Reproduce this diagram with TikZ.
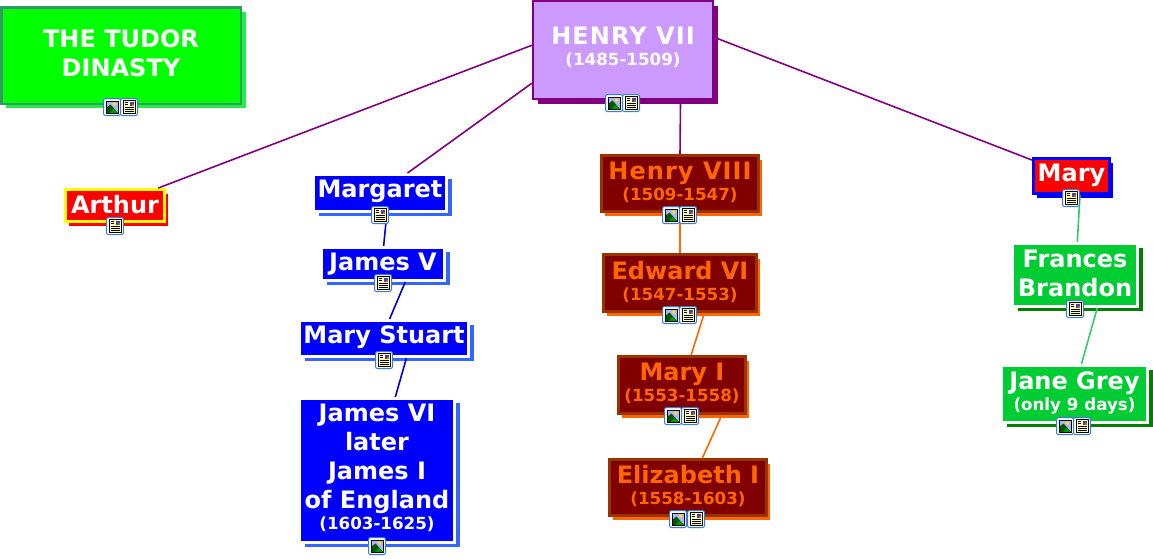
\documentclass[tikz,border=0pt]{standalone}
\usepackage{fontspec}
\setmainfont{DejaVu Sans}
\usepackage{xcolor}
\usetikzlibrary{shadows}
\definecolor{tgreen}{HTML}{00FF00}
\definecolor{tgreend}{HTML}{339966}
\definecolor{tgreens}{HTML}{22EE44}
\definecolor{hlilac}{HTML}{CC99FF}
\definecolor{hpurple}{HTML}{800080}
\definecolor{rmaroon}{HTML}{800000}
\definecolor{rbrown}{HTML}{993300}
\definecolor{rorange}{HTML}{FF6600}
\definecolor{sblue}{HTML}{0000FF}
\definecolor{sblues}{HTML}{3366FF}
\definecolor{bgreen}{HTML}{00CC33}
\definecolor{bgreend}{HTML}{008000}
\definecolor{bline}{HTML}{33CC66}
\definecolor{ired}{HTML}{FF0000}
\definecolor{iyellow}{HTML}{FFFF00}
\definecolor{iconb}{HTML}{3A7BD5}
\newcommand{\nametxt}{\fontsize{24}{29}\selectfont\bfseries}
\newcommand{\datetxt}{\fontsize{16.7}{18}\selectfont\bfseries}
\newcommand{\widetxt}{\addfontfeature{LetterSpace=4.5}}

\begin{document}
\begin{tikzpicture}[x=1pt, y=-1pt, font=\nametxt,
  box/.style={rectangle, inner sep=0pt, align=center},
  lift/.style={execute at end node={\vrule width 0pt height 0pt depth #1pt}},
  shade/.style={drop shadow={shadow xshift=5pt, shadow yshift=-4.5pt, opacity=1, fill=#1}},
  smallshade/.style={drop shadow={shadow xshift=3.5pt, shadow yshift=-4.5pt, opacity=1, fill=#1}},
  titlebox/.style={box, draw=tgreend, line width=2.5pt, fill=tgreen, text=white, shade=tgreens},
  rootbox/.style={box, draw=hpurple, line width=2pt, fill=hlilac, text=white, shade=hpurple},
  kingbox/.style={box, draw=rbrown, line width=3pt, fill=rmaroon, text=rorange, smallshade=rorange},
  stuartbox/.style={box, draw=white, line width=3pt, fill=sblue, text=white, shade=sblues},
  greybox/.style={box, draw=white, line width=3pt, fill=bgreen, text=white, shade=bgreend},
  arthurbox/.style={box, draw=iyellow, line width=3pt, fill=ired, text=white, smallshade=ired},
  marybox/.style={box, draw=sblue, line width=3pt, fill=ired, text=white, smallshade=sblue},
  purplearr/.style={draw=hpurple, line width=1.6pt},
  orangearr/.style={draw=rorange, line width=1.6pt},
  bluearr/.style={draw=sblue!85!black, line width=1.6pt},
  greenarr/.style={draw=bline, line width=1.6pt},
  imgicon/.pic={
    \draw[iconb, fill=white, line width=1pt, rounded corners=2pt] (-8.5,-8.5) rectangle (8.5,8.5);
    \fill[blue!30!white] (-6,-6) rectangle (6,6);
    \fill[yellow!90!orange] (2.5,-3) circle (1.9);
    \fill[green!35!black] (-6,6) -- (-6,1) -- (-1.5,-2.5) -- (6,6) -- cycle;
    \fill[green!60!black] (-2,6) -- (2,1.5) -- (6,6) -- cycle;
    \draw[black, line width=.6pt] (-6,-6) rectangle (6,6);
  },
  docicon/.pic={
    \draw[iconb, fill=white, line width=1pt, rounded corners=2pt] (-8.5,-8.5) rectangle (8.5,8.5);
    \draw[black, fill=yellow!30!white, line width=.6pt] (-6,-6.5) rectangle (6,6.5);
    \fill[blue!50!gray] (.5,-5.5) rectangle (5,-1);
    \fill[orange!80!black] (2.7,-3.2) rectangle (5,-1);
    \draw[black, line width=.8pt] (-4.5,-4.5) -- (-.8,-4.5) (-4.5,-2.3) -- (-.8,-2.3) (-4.5,0) -- (4.5,0) (-4.5,2.2) -- (4.5,2.2) (-4.5,4.4) -- (4.5,4.4);
  }]
  \useasboundingbox (0,0) rectangle (1153,558);
  % --- title and root
  \node[titlebox, lift=4, minimum width=239.5pt, minimum height=96.5pt] (title) at (121,55.5) {THE TUDOR\hspace{7pt}\\DINASTY};
  \node[rootbox, lift=7, minimum width=180pt, minimum height=98pt] (henry7) at (623,50) {{\widetxt HENRY VII}\\[-8pt]{\datetxt (1485-1509)}};
  % --- children of the root
  \node[arthurbox, lift=2, minimum width=99pt, minimum height=32pt] (arthur) at (115,205.5) {Arthur};
  \node[stuartbox, lift=7.8, minimum width=133pt, minimum height=37pt] (margaret) at (380,193) {Margaret};
  \node[kingbox, lift=4.2, minimum width=157pt, minimum height=56pt] (henry8) at (680,183.5) {{\widetxt Henry VIII}\\[-8pt]{\datetxt (1509-1547)}};
  \node[marybox, lift=6.5, minimum width=76pt, minimum height=35pt] (marysis) at (1071.5,176) {Mary};
  % --- stuart line
  \node[stuartbox, minimum width=123pt, minimum height=33pt] (james5) at (383,264) {James V};
  \node[stuartbox, lift=8.8, minimum width=169pt, minimum height=36pt] (stuart) at (384,338.5) {Mary Stuart};
  \node[stuartbox, lift=7, minimum width=155pt, minimum height=144pt] (james6) at (377,470.5) {James VI\\later\\James I\\of England\\[-8pt]{\datetxt (1603-1625)}};
  % --- tudor line
  \node[kingbox, lift=4.2, minimum width=153pt, minimum height=57pt] (edward) at (680,283) {Edward VI\\[-8pt]{\datetxt (1547-1553)}};
  \node[kingbox, lift=5.2, minimum width=127pt, minimum height=57pt] (mary1) at (682,385) {Mary I\\[-8pt]{\datetxt (1553-1558)}};
  \node[kingbox, lift=6.2, minimum width=157pt, minimum height=56pt] (eliz) at (688,487.5) {Elizabeth I\\[-8pt]{\datetxt (1558-1603)}};
  % --- grey line
  \node[greybox, lift=4, minimum width=125pt, minimum height=63pt] (frances) at (1075,275) {Frances\hspace{8pt}\\Brandon};
  \node[greybox, lift=6, minimum width=146pt, minimum height=57pt] (jane) at (1074.5,394) {Jane Grey\\[-8pt]{\datetxt (only 9 days)}};
  % --- connectors
  \draw[purplearr] (henry7.177.5) -- (arthur.22);
  \draw[purplearr] (henry7.200.5) -- (margaret.36.5);
  \draw[purplearr] (henry7.319) -- (henry8.north);
  \draw[purplearr] (henry7.8) -- (marysis.158);
  \draw[orangearr] (henry8.south) -- (edward.north);
  \draw[orangearr] (edward.309) -- (mary1.73);
  \draw[orangearr] (mary1.323) -- (eliz.64.6);
  \draw[bluearr] (margaret.289) -- (james5.88);
  \draw[bluearr] (james5.321.5) -- (stuart.74);
  \draw[bluearr] (stuart.319) -- (james6.76.6);
  \draw[greenarr] (marysis.294) -- (frances.86);
  \draw[greenarr] (frances.304) -- (jane.77);
  % --- icons
  \pic at (112,107) {imgicon};
  \pic at (129,107) {docicon};
  \pic at (614,103) {imgicon};
  \pic at (631,103) {docicon};
  \pic at (115,226) {docicon};
  \pic at (380,215) {docicon};
  \pic at (383,283) {docicon};
  \pic at (384,360) {docicon};
  \pic at (377,546) {imgicon};
  \pic at (671,215) {imgicon};
  \pic at (688,215) {docicon};
  \pic at (671,315) {imgicon};
  \pic at (688,315) {docicon};
  \pic at (673,416) {imgicon};
  \pic at (690,416) {docicon};
  \pic at (678,519) {imgicon};
  \pic at (696,519) {docicon};
  \pic at (1071,198) {docicon};
  \pic at (1075,309) {docicon};
  \pic at (1065,426) {imgicon};
  \pic at (1082,426) {docicon};
\end{tikzpicture}
\end{document}
